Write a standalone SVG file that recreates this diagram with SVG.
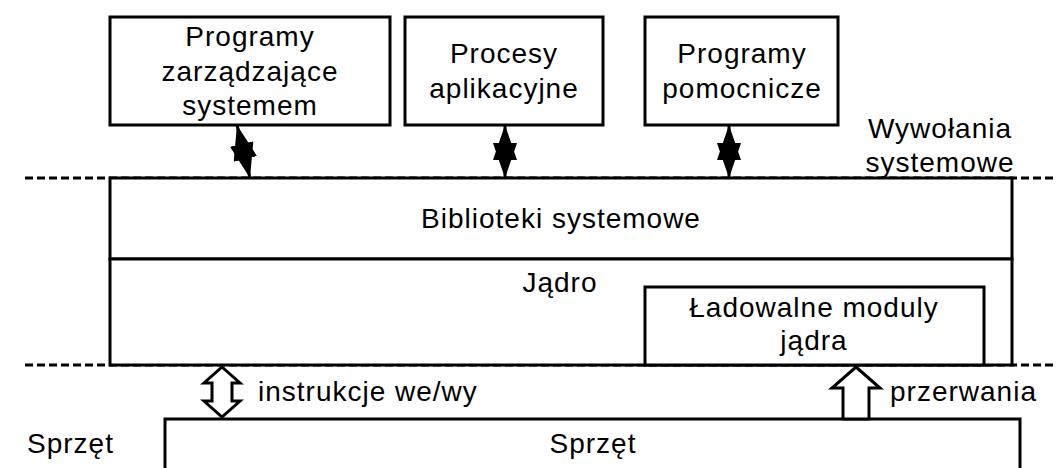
<svg xmlns="http://www.w3.org/2000/svg" width="1058" height="468" viewBox="0 0 1058 468">
<style>
.box{fill:#fff;stroke:#000;stroke-width:3}
.t{font-family:"Liberation Sans",Arial,sans-serif;font-size:28px;letter-spacing:1px;fill:#000;text-anchor:middle}
.l{font-family:"Liberation Sans",Arial,sans-serif;font-size:28px;letter-spacing:1px;fill:#000}
.dash{stroke:#000;stroke-width:3;stroke-dasharray:8 4;fill:none}
.conn{stroke:#000;stroke-width:3;fill:none}
.hollow{fill:#fff;stroke:#000;stroke-width:3;stroke-linejoin:miter}
</style>
<defs>
<marker id="ah" viewBox="0 -12 35 24" markerWidth="35" markerHeight="24" refX="35" refY="0" orient="auto-start-reverse" markerUnits="userSpaceOnUse">
<path d="M0,-12 L35,0 L0,12 Z" fill="#000"/>
</marker>
</defs>
<rect width="1058" height="468" fill="#fff"/>
<g id="dashed-lines">
<line class="dash" x1="25" y1="178" x2="1053" y2="178"/>
<line class="dash" x1="25" y1="365" x2="1053" y2="365"/>
</g>
<g id="box-programy-zarzadzajace">
<rect class="box" x="110" y="17" width="280" height="108"/>
<text class="t" x="250" y="46">Programy</text>
<text class="t" x="250" y="81">zarządzające</text>
<text class="t" x="250" y="115">systemem</text>
</g>
<g id="box-procesy">
<rect class="box" x="405" y="17" width="198" height="108"/>
<text class="t" x="504" y="63">Procesy</text>
<text class="t" x="504" y="98">aplikacyjne</text>
</g>
<g id="box-pomocnicze">
<rect class="box" x="645" y="17" width="193" height="108"/>
<text class="t" x="742" y="63">Programy</text>
<text class="t" x="742" y="98">pomocnicze</text>
</g>
<g id="label-wywolania">
<text class="t" x="940" y="138">Wywołania</text>
<text class="t" x="940" y="172">systemowe</text>
</g>
<g id="box-biblioteki">
<rect class="box" x="110" y="178" width="902" height="81"/>
<text class="t" x="561" y="228">Biblioteki systemowe</text>
</g>
<g id="box-jadro">
<rect class="box" x="110" y="259" width="902" height="106"/>
<text class="t" x="560" y="292">Jądro</text>
</g>
<g id="box-ladowalne">
<rect class="box" x="645" y="287" width="339" height="78"/>
<text class="t" x="814" y="317">Ładowalne moduly</text>
<text class="t" x="814" y="350">jądra</text>
</g>
<g id="box-sprzet">
<rect class="box" x="165" y="419" width="855" height="70"/>
<text class="t" x="593" y="453">Sprzęt</text>
</g>
<g id="label-sprzet">
<text class="l" x="27" y="453">Sprzęt</text>
</g>
<g id="connectors">
<line class="conn" x1="237" y1="125" x2="250" y2="178" marker-start="url(#ah)" marker-end="url(#ah)"/>
<line class="conn" x1="505" y1="125" x2="505" y2="178" marker-start="url(#ah)" marker-end="url(#ah)"/>
<line class="conn" x1="729" y1="125" x2="729" y2="178" marker-start="url(#ah)" marker-end="url(#ah)"/>
<polygon class="hollow" points="222,367 240,383 232,383 232,401 240,401 222,417 204,401 212,401 212,383 204,383"/>
<polygon class="hollow" points="856,367 880,388 869,388 869,419 843,419 843,388 832,388"/>
<text class="l" x="258" y="401">instrukcje we/wy</text>
<text class="l" x="890" y="401">przerwania</text>
</g>
</svg>
